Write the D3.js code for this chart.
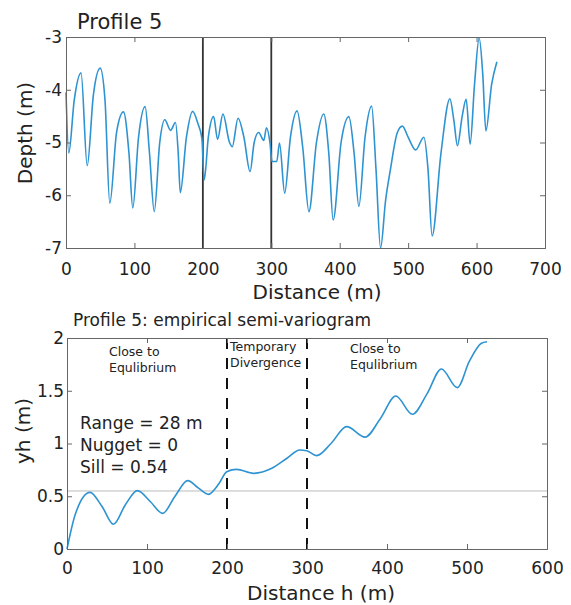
<!DOCTYPE html>
<html lang="en">
<head>
<meta charset="utf-8">
<title>Profile 5</title>
<script src="https://cdn.jsdelivr.net/npm/d3@7"></script>
<style>
  body { margin: 0; background: #fff; }
  svg text { font-family: "DejaVu Sans", Verdana, sans-serif; fill: #222; }
  .axis path, .axis line { stroke: #666; }
</style>
</head>
<body>
<script>
// depth profile (distance m, depth m)
var profileDist  = [0, 4, 12, 22, 31, 40, 50, 57, 64, 74, 84, 92, 97.6, 106, 115.6, 122, 129, 137, 144.4, 152.8, 160, 164, 167, 176, 185, 193, 198.6, 202, 208, 215.7, 221.5, 229.3, 239, 243, 251.4, 260, 269, 275, 281.5, 289, 293, 298, 301, 308, 312, 319.6, 328, 337.7, 346, 355, 366, 376.7, 384, 390.4, 402, 413.4, 421, 428, 437, 446.6, 453, 459.7, 467, 474, 484, 491.5, 500, 511, 523, 529, 535, 548, 561, 567, 572, 579, 584.8, 590.6, 597, 603.8, 609, 613.6, 622, 629.7];
var profileDepth = [-4.05, -5.2, -4.2, -3.68, -5.44, -4.1, -3.59, -4.2, -6.15, -4.8, -4.42, -5.2, -6.24, -4.9, -4.32, -5.2, -6.31, -5.0, -4.57, -4.77, -4.62, -5.2, -5.95, -4.9, -4.41, -4.65, -4.92, -5.71, -4.9, -4.51, -4.94, -4.46, -5.0, -5.08, -4.54, -4.9, -5.55, -5.0, -4.81, -4.96, -4.72, -5.0, -5.36, -5.36, -5.01, -5.96, -4.9, -4.40, -5.1, -6.31, -5.0, -4.46, -5.2, -6.47, -5.0, -4.51, -5.2, -6.21, -4.9, -4.31, -5.5, -7.0, -6.1, -5.52, -4.82, -4.69, -4.9, -5.14, -4.90, -5.5, -6.77, -5.2, -4.17, -4.6, -5.06, -4.5, -4.18, -5.03, -3.9, -3.02, -3.7, -4.78, -3.9, -3.47];

// empirical semi-variogram (lag m, gamma m)
var lagDist  = [0, 10, 28.75, 44, 58, 73, 88, 104, 119.6, 135, 150.9, 164, 176.7, 190, 199.6, 212, 233, 256, 275, 291, 299.6, 312, 330, 349.6, 372.5, 392, 411, 431.7, 450, 468, 487.9, 503, 518, 525];
var gammaVal = [0, 0.32, 0.537, 0.40, 0.234, 0.42, 0.553, 0.45, 0.338, 0.50, 0.648, 0.58, 0.518, 0.62, 0.733, 0.755, 0.717, 0.765, 0.86, 0.938, 0.932, 0.885, 1.00, 1.16, 1.06, 1.24, 1.45, 1.277, 1.47, 1.706, 1.53, 1.78, 1.95, 1.965];

var sill = 0.55;
var zoneBounds = [200, 300];

var topXTicks = [0, 100, 200, 300, 400, 500, 600, 700];
var topYTicks = [-3, -4, -5, -6, -7];
var botXTicks = [0, 100, 200, 300, 400, 500, 600];
var botYTicks = [0, 0.5, 1, 1.5, 2];

var w = 571, h = 605;
var lineColor = "#2e93d1";

var svg = d3.select("body").append("svg")
  .attr("width", w).attr("height", h);

function fmt(d) { return String(d); }

function drawFrame(x, y, xt, yt, xPad, yPad) {
  var x0 = x.range()[0], x1 = x.range()[1];
  var y0 = y.range()[0], y1 = y.range()[1];
  var tl = 5;
  svg.append("g").attr("class", "axis")
    .attr("transform", "translate(0," + y0 + ")")
    .call(d3.axisBottom(x).tickValues(xt).tickSize(-tl).tickPadding(xPad).tickFormat(fmt))
    .call(function(g) { g.selectAll("text").attr("font-size", "17px").attr("font-family", null); });
  svg.append("g").attr("class", "axis")
    .attr("transform", "translate(0," + y1 + ")")
    .call(d3.axisTop(x).tickValues(xt).tickSize(-tl).tickFormat(""));
  svg.append("g").attr("class", "axis")
    .attr("transform", "translate(" + x0 + ",0)")
    .call(d3.axisLeft(y).tickValues(yt).tickSize(-tl).tickPadding(yPad).tickFormat(fmt))
    .call(function(g) { g.selectAll("text").attr("font-size", "17px").attr("font-family", null); });
  svg.append("g").attr("class", "axis")
    .attr("transform", "translate(" + x1 + ",0)")
    .call(d3.axisRight(y).tickValues(yt).tickSize(-tl).tickFormat(""));
  svg.selectAll(".axis text").attr("fill", "#222");
}

// ---- top: depth profile
var x1 = d3.scaleLinear().domain([0, 700]).range([66, 545]);
var y1 = d3.scaleLinear().domain([-7, -3]).range([248, 37]);

svg.append("g").selectAll("line")
  .data(zoneBounds).enter().append("line")
  .attr("x1", function(d) { return x1(d); })
  .attr("x2", function(d) { return x1(d); })
  .attr("y1", y1(-3)).attr("y2", y1(-7))
  .attr("stroke", "#333").attr("stroke-width", 1.8);

svg.append("path")
  .datum(d3.zip(profileDist, profileDepth))
  .attr("fill", "none")
  .attr("stroke", lineColor)
  .attr("stroke-width", 1.6)
  .attr("d", d3.line()
    .x(function(d) { return x1(d[0]); })
    .y(function(d) { return y1(d[1]); })
    .curve(d3.curveMonotoneX));

drawFrame(x1, y1, topXTicks, topYTicks, 15, 4);

svg.append("text").attr("x", 77).attr("y", 29)
  .attr("font-size", "21px").text("Profile 5");
svg.append("text").attr("x", 317).attr("y", 299)
  .attr("text-anchor", "middle").attr("font-size", "20px").text("Distance (m)");
svg.append("text")
  .attr("transform", "translate(32,133) rotate(-90)")
  .attr("text-anchor", "middle").attr("font-size", "20px").text("Depth (m)");

// ---- bottom: semi-variogram
var x2 = d3.scaleLinear().domain([0, 600]).range([67, 547]);
var y2 = d3.scaleLinear().domain([0, 2]).range([549, 338]);

svg.append("line")
  .attr("x1", x2(0)).attr("x2", x2(600))
  .attr("y1", y2(sill)).attr("y2", y2(sill))
  .attr("stroke", "#bbb").attr("stroke-width", 1);

svg.append("g").selectAll("line")
  .data(zoneBounds).enter().append("line")
  .attr("x1", function(d) { return x2(d); })
  .attr("x2", function(d) { return x2(d); })
  .attr("y1", y2(2)).attr("y2", y2(0))
  .attr("stroke", "#111").attr("stroke-width", 2)
  .attr("stroke-dasharray", "11,9");

svg.append("path")
  .datum(d3.zip(lagDist, gammaVal))
  .attr("fill", "none")
  .attr("stroke", lineColor)
  .attr("stroke-width", 1.6)
  .attr("d", d3.line()
    .x(function(d) { return x2(d[0]); })
    .y(function(d) { return y2(d[1]); })
    .curve(d3.curveMonotoneX));

drawFrame(x2, y2, botXTicks, botYTicks, 13, 3);

svg.append("text").attr("x", 73).attr("y", 326)
  .attr("font-size", "17px").text("Profile 5: empirical semi-variogram");
svg.append("text").attr("x", 321).attr("y", 600)
  .attr("text-anchor", "middle").attr("font-size", "20px").text("Distance h (m)");
svg.append("text")
  .attr("transform", "translate(30,431) rotate(-90)")
  .attr("text-anchor", "middle").attr("font-size", "20px").text("yh (m)");

function twoLine(x, y, lines, gap) {
  var t = svg.append("text").attr("x", x).attr("y", y)
    .attr("font-size", "12.5px");
  lines.forEach(function(s, i) {
    t.append("tspan").attr("x", x).attr("dy", i ? gap : 0).text(s);
  });
}
twoLine(109, 356, ["Close to", "Equlibrium"], 16);
twoLine(230, 351, ["Temporary", "Divergence"], 16);
twoLine(350, 353, ["Close to", "Equlibrium"], 16);

var stats = ["Range = 28 m", "Nugget = 0", "Sill = 0.54"];
svg.append("g").selectAll("text")
  .data(stats).enter().append("text")
  .attr("x", 80).attr("y", function(d, i) { return 429 + i * 22; })
  .attr("font-size", "17px").text(function(d) { return d; });
</script>
</body>
</html>
